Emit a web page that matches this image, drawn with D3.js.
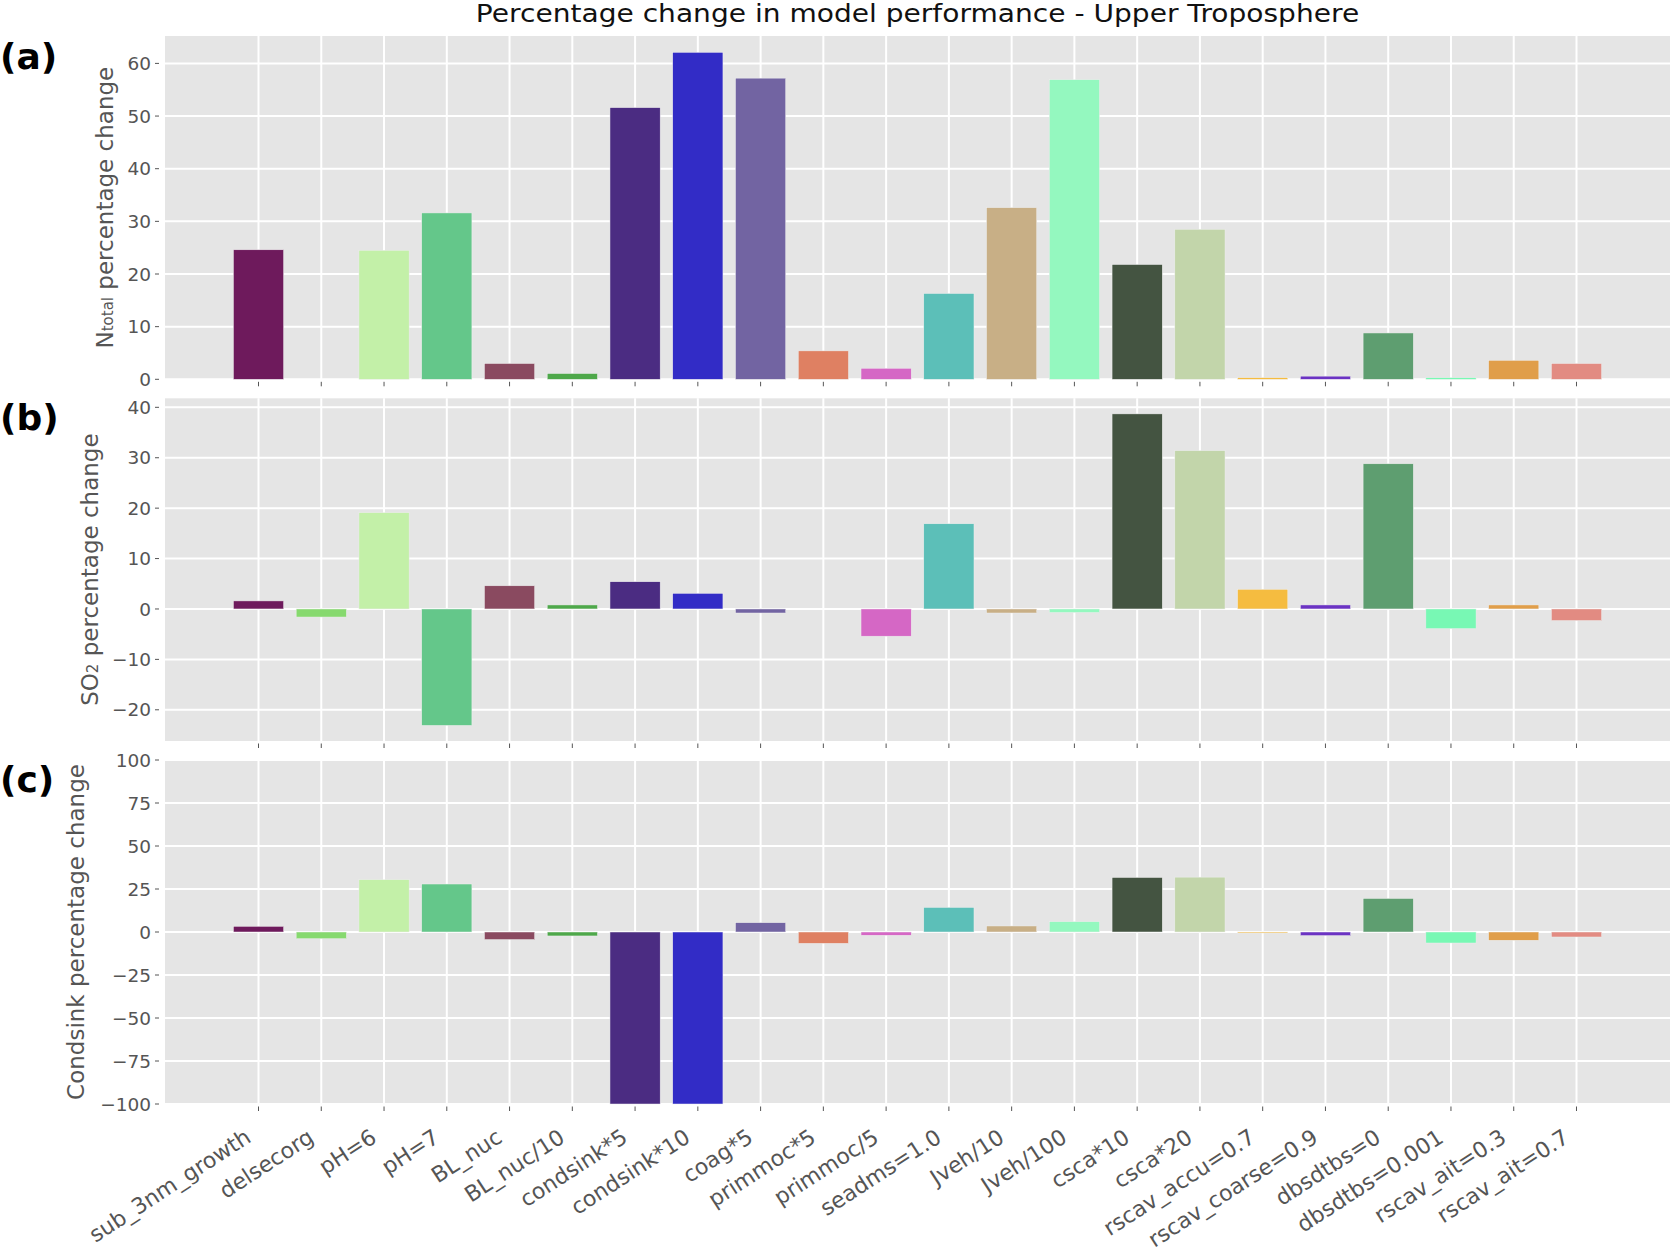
<!DOCTYPE html>
<html lang="en">
<head>
  <meta charset="UTF-8">
  <title>Percentage change in model performance - Upper Troposphere</title>
  <script src="https://d3js.org/d3.v7.min.js"></script>
  <style>
    body {
      margin: 0;
      padding: 0;
      background: #ffffff;
      font-family: 'DejaVu Sans', sans-serif;
    }
    svg text { font-family: 'DejaVu Sans', sans-serif; }
  </style>
</head>
<body>
  <svg id="chart"></svg>

  <script>
    // Perturbed-parameter runs along the x axis
    const categories = [
      "sub_3nm_growth", "delsecorg", "pH=6", "pH=7", "BL_nuc", "BL_nuc/10",
      "condsink*5", "condsink*10", "coag*5", "primmoc*5", "primmoc/5", "seadms=1.0",
      "Jveh/10", "Jveh/100", "csca*10", "csca*20", "rscav_accu=0.7", "rscav_coarse=0.9",
      "dbsdtbs=0", "dbsdtbs=0.001", "rscav_ait=0.3", "rscav_ait=0.7"
    ];

    // (a) N_total percentage change
    const ntotalChange = [
      24.6, 0.0, 24.5, 31.6, 3.0, 1.1, 51.6, 62.1, 57.2, 5.4, 2.1, 16.3,
      32.6, 56.9, 21.8, 28.5, 0.3, 0.6, 8.8, 0.3, 3.6, 3.0
    ];

    // (b) SO2 percentage change
    const so2Change = [
      1.6, -1.6, 19.1, -23.1, 4.6, 0.8, 5.4, 3.1, -0.8, 0.0, -5.4, 16.9,
      -0.8, -0.7, 38.7, 31.4, 3.9, 0.8, 28.8, -3.9, 0.8, -2.3
    ];

    // (c) Condsink percentage change
    const condsinkChange = [
      3.3, -3.9, 30.4, 27.9, -4.4, -2.3, -100, -100, 5.4, -6.6, -1.9, 14.3,
      3.5, 6.0, 31.7, 31.9, -0.6, -2.1, 19.5, -6.4, -4.8, -2.9
    ];

    const barColors = [
      "#6e1a5c", "#86d96e", "#c3f0a8", "#64c78a", "#8a4a60", "#4ea84a",
      "#4b2c82", "#322cc6", "#7264a2", "#df8062", "#d567c5", "#5cbfb8",
      "#c8af86", "#94f8bf", "#445441", "#c2d5aa", "#f5bc40", "#6b33c3",
      "#5e9e70", "#78f8b4", "#e09e4a", "#e28b82"
    ];

    const ticksA = [0, 10, 20, 30, 40, 50, 60];
    const ticksB = [-20, -10, 0, 10, 20, 30, 40];
    const ticksC = [-100, -75, -50, -25, 0, 25, 50, 75, 100];

    const width = 1671, height = 1251;
    const plotLeft = 165, plotRight = 1670;
    const barWidth = 0.8;

    const svg = d3.select("#chart").attr("width", width).attr("height", height);

    // matplotlib-like x limits: bar extents plus 5% margin
    const xMin = -barWidth / 2, xMax = categories.length - 1 + barWidth / 2;
    const xPad = (xMax - xMin) * 0.05;
    const x = d3.scaleLinear().domain([xMin - xPad, xMax + xPad]).range([plotLeft, plotRight]);

    function padded(values, stickyZero) {
      const lo = Math.min(0, d3.min(values)), hi = Math.max(0, d3.max(values));
      const m = (hi - lo) * 0.05;
      return [stickyZero && lo === 0 ? 0 : lo - m, hi + m];
    }

    const panels = [
      { tag: "(a)", values: ntotalChange, top: 36, bottom: 379.3, domain: padded(ntotalChange, true),
        ticks: ticksA, labelX: 113, tagY: 69 },
      { tag: "(b)", values: so2Change, top: 398.3, bottom: 741, domain: padded(so2Change, false),
        ticks: ticksB, labelX: 98, tagY: 430 },
      { tag: "(c)", values: condsinkChange, top: 760, bottom: 1104, domain: [-100, 100],
        ticks: ticksC, labelX: 84, tagY: 792 }
    ];

    const fmt = d => d < 0 ? "\u2212" + Math.abs(d) : String(d);

    panels.forEach((p, pi) => {
      const y = d3.scaleLinear().domain(p.domain).range([p.bottom, p.top]);
      const g = svg.append("g");

      // background
      g.append("rect")
        .attr("x", plotLeft).attr("y", p.top)
        .attr("width", plotRight - plotLeft).attr("height", p.bottom - p.top)
        .attr("fill", "#e5e5e5");

      // grid
      g.selectAll(".hgrid").data(p.ticks).join("line")
        .attr("x1", plotLeft).attr("x2", plotRight)
        .attr("y1", d => y(d)).attr("y2", d => y(d))
        .attr("stroke", "#ffffff").attr("stroke-width", 2);
      g.selectAll(".vgrid").data(categories).join("line")
        .attr("x1", (d, i) => x(i)).attr("x2", (d, i) => x(i))
        .attr("y1", p.top).attr("y2", p.bottom)
        .attr("stroke", "#ffffff").attr("stroke-width", 2);

      // bars
      g.selectAll(".bar").data(p.values).join("rect")
        .attr("x", (d, i) => x(i - barWidth / 2))
        .attr("width", x(barWidth) - x(0))
        .attr("y", d => y(Math.max(0, d)))
        .attr("height", d => Math.abs(y(d) - y(0)))
        .attr("fill", (d, i) => barColors[i])
        .attr("stroke", "#eeeeee").attr("stroke-width", 0.5);

      // y ticks
      g.selectAll(".ytick").data(p.ticks).join("line")
        .attr("x1", plotLeft - 10).attr("x2", plotLeft - 6)
        .attr("y1", d => y(d)).attr("y2", d => y(d))
        .attr("stroke", "#555555").attr("stroke-width", 1);
      g.selectAll(".ylab").data(p.ticks).join("text")
        .attr("x", plotLeft - 14).attr("y", d => y(d))
        .attr("dy", "0.36em")
        .attr("text-anchor", "end")
        .attr("font-size", 18.5)
        .attr("fill", "#555555")
        .text(fmt);

      // x ticks
      g.selectAll(".xtick").data(categories).join("line")
        .attr("x1", (d, i) => x(i)).attr("x2", (d, i) => x(i))
        .attr("y1", p.bottom + 2.5).attr("y2", p.bottom + 7)
        .attr("stroke", "#555555").attr("stroke-width", 1);

      // axis label
      const lab = g.append("text")
        .attr("transform", `translate(${p.labelX},${(p.top + p.bottom) / 2}) rotate(-90)`)
        .attr("text-anchor", "middle")
        .attr("font-size", 23)
        .attr("fill", "#555555");
      if (pi === 0) {
        lab.append("tspan").text("N");
        lab.append("tspan").attr("font-size", 15).text("total");
        lab.append("tspan").text(" percentage change");
      } else if (pi === 1) {
        lab.append("tspan").text("SO");
        lab.append("tspan").attr("font-size", 15).text("2");
        lab.append("tspan").text(" percentage change");
      } else {
        lab.text("Condsink percentage change");
      }

      // panel tag
      svg.append("text")
        .attr("x", 0).attr("y", p.tagY)
        .attr("font-size", 36).attr("font-weight", "bold")
        .attr("fill", "#000000")
        .text(p.tag);
    });

    // category labels under the last panel
    svg.append("g").selectAll("text").data(categories).join("text")
      .attr("transform", (d, i) => `translate(${x(i) - 6},1141) rotate(-33)`)
      .attr("text-anchor", "end")
      .attr("font-size", 22)
      .attr("fill", "#555555")
      .text(d => d);

    // title (slightly wide in the reference, so stretched horizontally)
    const cx = (plotLeft + plotRight) / 2;
    svg.append("text")
      .attr("transform", `translate(${cx},22) scale(1.17,1)`)
      .attr("text-anchor", "middle")
      .attr("font-size", 24)
      .attr("fill", "#111111")
      .text("Percentage change in model performance - Upper Troposphere");
  </script>
</body>
</html>
